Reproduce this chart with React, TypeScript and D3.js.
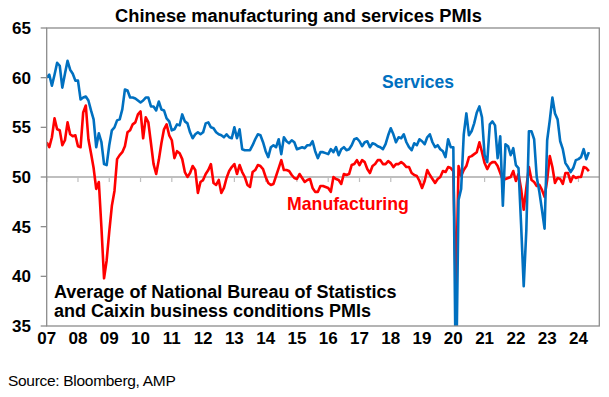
import * as d3 from "d3";

// Monthly averages of NBS and Caixin PMIs, Jan 2007 onwards.
const services: number[] = [
  60.0, 60.3, 59.2, 60.3, 61.5, 61.2, 59.0, 60.4, 61.7, 60.8, 60.4, 59.7,
  59.7, 57.8, 58.0, 58.1, 57.7, 56.7, 55.8, 53.0, 54.4, 53.5, 51.3, 51.2,
  53.2, 54.7, 55.0, 55.7, 55.8, 56.8, 58.8, 58.7, 58.0, 58.0, 57.9, 57.7,
  57.5, 57.7, 58.0, 58.0, 57.1, 57.1, 56.7, 57.6, 56.8, 56.7, 55.9, 55.6,
  54.7, 54.8, 55.3, 55.2, 56.3, 55.6, 55.4, 54.5, 53.9, 54.3, 54.5, 54.3,
  54.5, 55.4, 55.5, 55.0, 54.9, 54.5, 54.3, 54.2, 54.0, 54.3, 54.0, 53.9,
  55.0, 53.9, 54.8, 52.8, 52.7, 52.7, 52.7, 53.2, 53.8, 54.3, 54.2, 53.5,
  52.6, 52.0, 53.0, 53.2, 53.0, 53.8, 52.3, 54.0, 53.6, 53.4, 53.7, 53.5,
  52.8, 52.9, 53.0, 52.9, 53.2, 53.2, 53.6, 52.6, 51.9, 52.5, 52.5, 52.4,
  52.3, 52.8, 52.5, 53.0, 52.2, 52.8, 53.0, 52.7, 52.8, 53.2, 53.8, 53.9,
  53.6, 53.1, 53.5, 53.6, 53.0, 53.4, 53.3, 53.1, 53.0, 52.8, 53.3, 54.2,
  54.9, 54.3, 53.5, 54.0, 53.9, 54.3, 53.5, 53.0, 52.7, 53.4, 53.2, 53.8,
  53.6, 53.3, 54.0, 54.3, 53.5, 53.0, 53.2, 52.8, 52.6, 52.0, 53.8, 53.0,
  53.0, 28.1, 47.7, 48.8, 54.3, 56.4, 54.2, 54.6, 55.4, 56.5, 57.1, 56.0,
  52.2, 51.5, 55.3, 55.6, 55.2, 51.9, 54.1, 47.1, 53.3, 53.1, 52.2, 52.9,
  51.2, 50.9, 45.2, 39.0, 44.6, 54.6, 54.6, 53.8, 50.0, 48.5, 46.7, 44.8,
  53.7, 55.7, 58.0, 56.4, 55.8, 53.6, 52.8, 51.4, 51.0, 50.5, 50.9, 51.7,
  51.8, 52.0, 52.8, 51.8, 52.5,
];

const manufacturing: number[] = [
  53.5, 53.0, 54.0, 55.9, 54.8, 54.7, 53.2, 53.7, 55.5, 54.3, 54.1, 54.2,
  53.1, 53.0, 56.5, 57.2, 53.8, 52.4, 50.9, 48.8, 49.5, 44.9, 39.8, 41.6,
  44.5, 47.1, 48.6, 51.8, 52.2, 52.5, 53.1, 54.5, 54.7, 55.3, 55.5, 56.3,
  56.6, 53.9, 56.0, 55.5, 53.4, 51.3, 50.3, 51.7, 53.4, 54.8, 55.3, 54.2,
  53.7, 51.9, 52.6, 52.4, 51.8, 50.5, 50.0, 50.4, 51.1, 50.7, 48.4, 49.5,
  49.7, 50.3, 50.7, 51.3, 49.4, 49.2, 49.7, 48.4, 48.9, 49.9, 50.6, 51.0,
  51.3, 50.3, 51.2, 50.5, 50.0, 49.2, 49.0, 50.5, 50.7, 51.2, 51.1, 50.8,
  50.0, 49.4, 49.2, 49.3, 50.1, 50.9, 51.7, 50.7, 50.7, 50.6, 50.2, 49.9,
  49.8, 50.3, 49.9, 49.5, 49.7, 49.8, 48.9, 48.5, 48.5, 49.1, 49.1, 49.0,
  48.9, 48.5, 50.0, 49.8, 49.7, 49.3, 50.3, 50.2, 50.3, 51.2, 51.3, 51.7,
  51.2, 51.7, 51.5, 50.8, 50.4, 51.1, 51.3, 51.7, 51.7, 51.3, 51.3, 51.6,
  51.4, 51.0, 51.3, 51.3, 51.5, 51.3, 51.0, 51.0, 50.4, 50.2, 50.1, 49.6,
  48.9, 49.6, 50.7, 50.2, 49.8, 49.4, 49.8, 50.0, 50.6, 50.5, 51.0, 50.9,
  50.6, 38.0, 51.1, 50.1, 50.7, 51.1, 52.0, 52.1, 52.3, 52.5, 53.5, 52.5,
  51.4, 50.8, 51.3, 51.5, 51.5, 51.1, 50.4, 49.7, 49.8, 49.9, 50.0, 50.6,
  49.6, 50.3, 48.8, 46.7, 48.9, 51.0, 49.7, 49.5, 49.1, 49.2, 48.7, 48.0,
  49.7, 52.1, 51.0, 49.4, 49.9, 49.8, 49.3, 50.4, 50.4, 49.5, 50.1, 49.9,
  50.0, 50.0, 51.0, 50.9, 50.6,
];

const yearLabels = ["07", "08", "09", "10", "11", "12", "13", "14", "15", "16", "17", "18", "19", "20", "21", "22", "23", "24"];
const yTicks = [35, 40, 45, 50, 55, 60, 65];

const W = 609;
const H = 397;
const plot = { left: 46.7, right: 599.3, top: 28, bottom: 326 };
const FONT = "'Liberation Sans', Arial, sans-serif";

export default function App() {
  // x in months since Jan 2007
  const x = d3.scaleLinear().domain([0, 212]).range([plot.left, plot.right]);
  const y = d3.scaleLinear().domain([35, 65]).range([plot.bottom, plot.top]);

  const line = d3
    .line<number>()
    .x((_, i) => x(i))
    .y((d) => y(d));

  const axisGrey = "#8c8c8c";

  return (
    <svg
      width={W}
      height={H}
      style={{ position: "absolute", left: 0, top: 0, background: "#fff" }}
      fontFamily={FONT}
    >
      <defs>
        <clipPath id="plotClip">
          <rect x={plot.left} y={plot.top} width={plot.right - plot.left} height={plot.bottom - plot.top} />
        </clipPath>
      </defs>

      <text x={298.5} y={22} textAnchor="middle" fontSize={18.3} fontWeight="bold" fill="#000">
        Chinese manufacturing and services PMIs
      </text>

      {/* 50 line acting as the category axis */}
      <line x1={plot.left} x2={plot.right} y1={y(50)} y2={y(50)} stroke="#bfbfbf" strokeWidth={2} />
      {yearLabels.map((_, i) => (
        <line
          key={i}
          x1={x(i * 12)}
          x2={x(i * 12)}
          y1={y(50)}
          y2={y(50) + 5}
          stroke="#bfbfbf"
          strokeWidth={1.2}
        />
      ))}

      <g clipPath="url(#plotClip)" fill="none" strokeWidth={2.6} strokeLinejoin="round">
        <path d={line(manufacturing) ?? ""} stroke="#ff0000" />
        <path d={line(services) ?? ""} stroke="#0070c0" />
      </g>

      {/* plot frame */}
      <rect
        x={plot.left}
        y={plot.top}
        width={plot.right - plot.left}
        height={plot.bottom - plot.top}
        fill="none"
        stroke={axisGrey}
        strokeWidth={1.3}
      />

      {yTicks.map((t) => (
        <g key={t}>
          <line x1={plot.left - 6} x2={plot.left} y1={y(t)} y2={y(t)} stroke={axisGrey} strokeWidth={1.3} />
          <text x={31} y={y(t)} dy="0.36em" textAnchor="end" fontSize={17} fontWeight="bold" fill="#000">
            {t}
          </text>
        </g>
      ))}

      {yearLabels.map((l, i) => (
        <text key={l} x={x(i * 12)} y={344} textAnchor="middle" fontSize={17} fontWeight="bold" fill="#000">
          {l}
        </text>
      ))}

      <text x={382} y={88} fontSize={17.5} fontWeight="bold" fill="#0070c0">
        Services
      </text>
      <text x={287} y={210} fontSize={17.7} fontWeight="bold" fill="#ff0000">
        Manufacturing
      </text>

      <text x={54} y={298} fontSize={18} fontWeight="bold" fill="#000">
        Average of National Bureau of Statistics
      </text>
      <text x={54} y={317} fontSize={18} fontWeight="bold" fill="#000">
        and Caixin business conditions PMIs
      </text>

      <text x={8} y={386} fontSize={15.5} fill="#000" letterSpacing={-0.3}>
        Source: Bloomberg, AMP
      </text>
    </svg>
  );
}
